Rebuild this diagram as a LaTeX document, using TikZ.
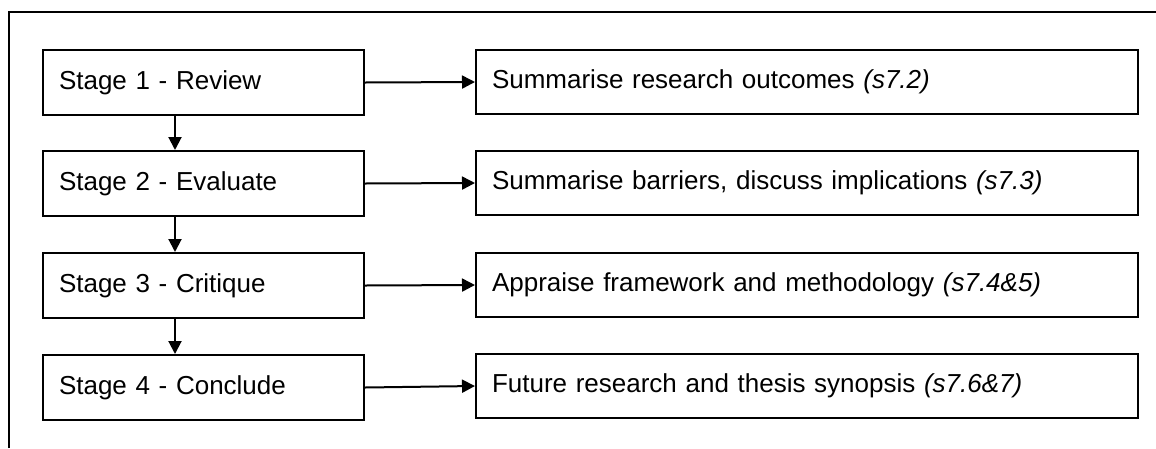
\documentclass[tikz,border=0pt]{standalone}
\usepackage{fontspec}
\setmainfont{Liberation Sans}
\usetikzlibrary{arrows.meta}
\begin{document}
\begin{tikzpicture}[x=1pt,y=-1pt,
  stagebox/.style={draw,line width=2pt,anchor=north west,minimum width=321pt,minimum height=65pt,inner xsep=16pt,text width=289pt,align=left,font=\fontsize{26pt}{30pt}\selectfont},
  outbox/.style={draw,line width=2pt,anchor=north west,minimum width=662pt,minimum height=64pt,inner xsep=16pt,text width=630pt,align=left,font=\fontsize{26pt}{30pt}\selectfont},
  arr/.style={line width=2pt,-{Triangle[length=13pt,width=13pt]}}]
\useasboundingbox (0,0) rectangle (1156,448);
\fill[white] (0,0) rectangle (1156,448);
\coordinate (fbl) at (9,448);
\coordinate (ftl) at (9,12);
\coordinate (ftr) at (1156,12);
\draw[line width=2pt] (fbl) -- (ftl) -- (ftr);
\node[stagebox] (s1) at (42,49) {Stage 1 - Review};
\node[stagebox] (s2) at (42,150) {Stage 2 - Evaluate};
\node[stagebox] (s3) at (42,252) {Stage 3 - Critique};
\node[stagebox] (s4) at (42,354) {Stage 4 - Conclude};
\node[outbox] (o1) at (475,49) {Summarise research outcomes \textit{(s7.2)}};
\node[outbox] (o2) at (475,150) {Summarise barriers, discuss implications \textit{(s7.3)}};
\node[outbox] (o3) at (475,252) {Appraise framework and methodology \textit{(s7.4\&5)}};
\node[outbox] (o4) at (475,353) {Future research and thesis synopsis \textit{(s7.6\&7)}};
\foreach \i in {1,2,3,4}{\draw[arr] (s\i.east) -- (o\i.west);}
\draw[arr] (s1.south west) ++(133,0) coordinate (a1) -- (a1 |- s2.north);
\draw[arr] (s2.south west) ++(133,0) coordinate (a2) -- (a2 |- s3.north);
\draw[arr] (s3.south west) ++(133,0) coordinate (a3) -- (a3 |- s4.north);
\end{tikzpicture}
\end{document}
